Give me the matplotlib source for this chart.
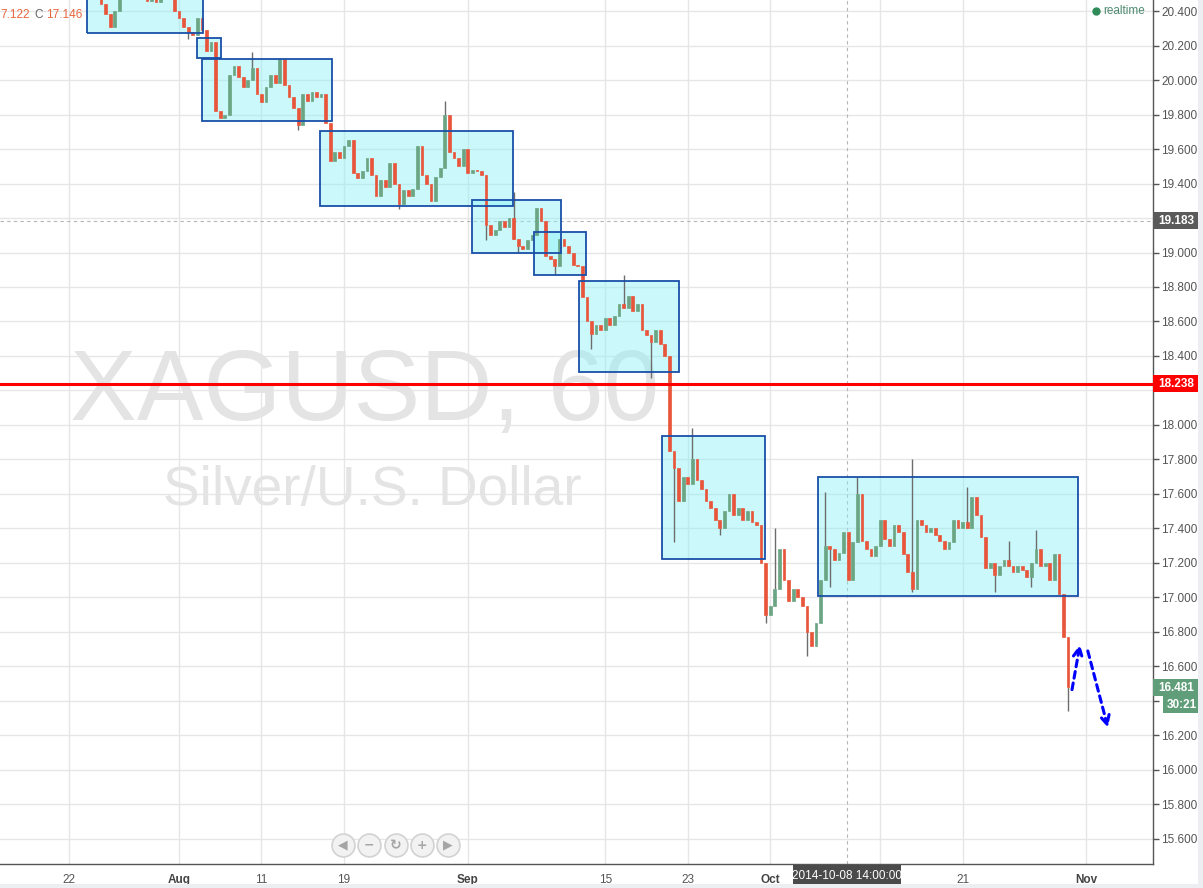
import numpy as np
import matplotlib.pyplot as plt
from matplotlib.patches import Rectangle

plt.rcParams['font.family'] = ['Liberation Sans', 'DejaVu Sans']

# XAGUSD 60 min, closes, 3 per trading day (day 0 = Jul 22 2014)
first_day = 1.0
closes = [
    20.55, 20.50, 20.48,  20.47, 20.44, 20.38,  20.31, 20.40, 20.47,
    20.55, 20.60, 20.62,  20.58, 20.52, 20.46,  20.48, 20.45, 20.49,
    20.52, 20.47, 20.40,  20.36, 20.31, 20.28,  20.26, 20.36, 20.29,
    20.17, 20.22, 19.82,  19.78, 19.80, 20.03,  20.08, 20.02, 19.96,
    20.00, 20.07, 19.92,  19.87, 19.96, 20.03,  19.98, 20.12, 19.97,
    19.90, 19.84, 19.74,  19.92, 19.88, 19.93,  19.90, 19.92, 19.75,
    19.53, 19.58, 19.55,  19.62, 19.65, 19.46,  19.43, 19.47, 19.55,
    19.45, 19.33, 19.42,  19.38, 19.52, 19.40,  19.28, 19.36, 19.33,
    19.37, 19.62, 19.45,  19.40, 19.30, 19.44,  19.49, 19.80, 19.58,
    19.55, 19.50, 19.60,  19.46, 19.48, 19.47,  19.45, 19.16, 19.10,
    19.13, 19.18, 19.15,  19.20, 19.08, 19.04,  19.02, 19.07, 19.10,
    19.26, 19.18, 18.98,  18.96, 18.92, 19.08,  19.04, 19.00, 18.93,
    18.92, 18.74, 18.60,  18.53, 18.58, 18.55,  18.62, 18.58, 18.63,
    18.70, 18.68, 18.75,  18.66, 18.70, 18.55,  18.52, 18.48, 18.55,
    18.47, 18.40, 17.85,  17.75, 17.56, 17.70,  17.66, 17.80, 17.68,
    17.63, 17.56, 17.52,  17.45, 17.40, 17.50,  17.60, 17.48, 17.52,
    17.45, 17.50, 17.44,  17.42, 17.20, 16.90,  16.95, 17.05, 17.28,
    17.10, 16.98, 17.05,  17.00, 16.95, 16.80,  16.72, 16.85, 17.10,
    17.30, 17.28, 17.22,  17.26, 17.38, 17.10,  17.32, 17.60, 17.33,
    17.28, 17.24, 17.30,  17.45, 17.34, 17.30,  17.42, 17.38, 17.25,
    17.15, 17.05, 17.45,  17.42, 17.38, 17.40,  17.36, 17.33, 17.28,
    17.32, 17.45, 17.40,  17.44, 17.40, 17.58,  17.48, 17.35, 17.17,
    17.20, 17.13, 17.18,  17.22, 17.18, 17.15,  17.18, 17.16, 17.12,
    17.20, 17.28, 17.18,  17.20, 17.10, 17.25,  17.02, 16.77, 16.481,
]

# spikes (wick extremes)
wick_days = [8.8, 13.3, 16.6, 18.7, 24.0, 27.35, 30.47, 32.3, 32.8, 35.5, 37.9,
             40.5, 42.25, 43.85, 45.2, 47.35, 50.55, 51.5, 53.6, 55.1, 55.5, 57.4,
             61.3, 61.4, 65.4, 67.5, 68.4, 69.9, 70.4, 72.6]
wick_prices = [20.24, 20.16, 19.71, 19.75, 19.25, 19.88, 19.07, 19.35, 19.00, 18.87, 18.44,
               18.87, 18.27, 17.32, 17.98, 17.36, 16.85, 17.40, 16.66, 17.61, 17.06, 17.70,
               17.03, 17.80, 17.64, 17.03, 17.33, 17.06, 17.39, 16.34]

# consolidation boxes
box_start = [1.31, 9.31, 9.67, 18.28, 29.31, 33.82, 37.09, 43.13, 54.47]
box_end = [9.75, 11.05, 19.13, 32.29, 35.78, 37.6, 44.36, 50.62, 73.38]
box_low = [20.27, 20.128, 19.763, 19.27, 19.0, 18.87, 18.31, 17.225, 17.01]
box_high = [20.70, 20.244, 20.122, 19.705, 19.305, 19.12, 18.836, 17.938, 17.70]

support = 18.238
last_close = 19.183
tick_pos = [0, 8, 14, 20, 29, 39, 45, 51, 59, 65, 74]
tick_lab = ['22', 'Aug', '11', '19', 'Sep', '15', '23', 'Oct', '', '21', 'Nov']
months = ['Aug', 'Sep', 'Oct', 'Nov']
hidden_prices = [16.4, 18.2, 19.2]   # scale labels covered by the price tags
cross_day = 56.58

W, H = 1203, 888
fig = plt.figure(figsize=(W / 100, H / 100), dpi=100)
ax = fig.add_axes([0, 24 / H, 1153 / W, 864 / H])
ax.set_xlim(-5.018, 78.84)
ax.set_ylim(15.455, 20.4638)

# grid
yt = np.round(np.arange(15.6, 20.41, 0.2), 1)
ax.set_yticks(yt)
ax.set_yticklabels(['' if v in hidden_prices else '%.3f' % v for v in yt])
ax.set_xticks(tick_pos)
ax.set_xticklabels(tick_lab)
ax.grid(color='#e6e6e6', lw=1, zorder=0)
ax.set_axisbelow(True)
ax.yaxis.tick_right()
ax.tick_params(axis='y', length=4, pad=2, colors='#555555', labelsize=8.5, width=1)
ax.tick_params(axis='x', length=0, pad=7, colors='#555555', labelsize=8.5)
for lab in ax.get_xticklabels():
    if lab.get_text() in months:
        lab.set_fontweight('bold')
        lab.set_color('#444444')
for s in ['top', 'left']:
    ax.spines[s].set_visible(False)
for s in ['right', 'bottom']:
    ax.spines[s].set_color('#555555')
    ax.spines[s].set_linewidth(1)

# watermark
ax.text(70 / 1153, 1 - 420 / 864, 'XAGUSD, 60', transform=ax.transAxes, fontsize=72,
        color='#e4e4e4', ha='left', va='baseline', zorder=1)
ax.text(163 / 1153, 1 - 505 / 864, 'Silver/U.S. Dollar', transform=ax.transAxes,
        fontsize=39.6, color='#e4e4e4', ha='left', va='baseline', zorder=1)

# boxes
for x0, x1, lo, hi in zip(box_start, box_end, box_low, box_high):
    ax.add_patch(Rectangle((x0, lo), x1 - x0, hi - lo, facecolor=(0.55, 0.95, 0.97),
                           alpha=0.45, edgecolor='none', zorder=2))
    ax.add_patch(Rectangle((x0, lo), x1 - x0, hi - lo, facecolor='none',
                           edgecolor='#1a4fa8', lw=1.3, zorder=4))

# candles
c = np.array(closes)
x = first_day + np.arange(len(c)) / 3
o = np.r_[c[0], c[:-1]]
lo = np.minimum(o, c)
hgt = np.maximum(np.abs(c - o), 0.01)
cols = np.where(c >= o, '#6ba583', '#e8553a')
for d, p in zip(wick_days, wick_prices):
    i = int(np.argmin(np.abs(x - d)))
    ax.vlines(x[i], p, c[i], color='#6d6d6d', lw=1, zorder=3)
ax.bar(x, hgt, bottom=lo, width=0.2, color=cols, edgecolor=cols, lw=0.5, zorder=3)

# lines
ax.axhline(support, color='#ff0000', lw=2.2, zorder=5)
ax.axhline(last_close, color='#b5b5b5', lw=0.8, ls=(0, (3, 3)), zorder=1)
ax.axvline(cross_day, color='#b5b5b5', lw=0.8, ls=(0, (3, 3)), zorder=1)

# forecast arrows
ap = dict(arrowstyle='->', color='#0000ff', lw=2.2, linestyle=(0, (2.2, 1.6)),
          mutation_scale=16, shrinkA=0, shrinkB=0)
ax.annotate('', xy=(73.53, 16.727), xytext=(72.95, 16.466), arrowprops=ap, zorder=6)
ax.annotate('', xy=(75.56, 16.246), xytext=(74.1, 16.69), arrowprops=ap, zorder=6)

# price labels on the scale
ytr = ax.get_yaxis_transform()
def price_tag(price, text, color, x0=1.0, w=45):
    h = 8.5 / 172.5
    ax.add_patch(Rectangle((x0, price - h), w / 1153, 2 * h, transform=ytr,
                           facecolor=color, edgecolor='none', clip_on=False, zorder=10))
    ax.text(x0 + (w / 2 + 1) / 1153, price, text, transform=ytr, color='white',
            fontsize=8.5, fontweight='bold', ha='center', va='center', clip_on=False, zorder=11)

price_tag(last_close, '%.3f' % last_close, '#5a5a5a')
price_tag(support, '%.3f' % support, '#ff0000')
price_tag(16.478, '16.481', '#5f9e78')
price_tag(16.377, '30:21', '#5f9e78', x0=1 + 10 / 1153, w=35)

# legend values, top left
ax.text(0, 1 - 15 / 864, '7.122', transform=ax.transAxes, color='#e8663c', fontsize=8.5,
        va='center', ha='left')
ax.text(34 / 1153, 1 - 15 / 864, 'C', transform=ax.transAxes, color='#666666',
        fontsize=8.5, va='center', ha='left')
ax.text(46 / 1153, 1 - 15 / 864, '17.146', transform=ax.transAxes, color='#e8663c',
        fontsize=8.5, va='center', ha='left')
ax.plot([1096 / 1153], [1 - 11 / 864], 'o', color='#2e8b57', ms=5, transform=ax.transAxes)
ax.text(1103 / 1153, 1 - 11 / 864, 'realtime', transform=ax.transAxes, color='#4e8a70',
        fontsize=8.5, va='center', ha='left')

# navigation buttons
icons = ['◀', '−', '↻', '+', '▶']
for k, (cx, ic) in enumerate(zip([343, 369, 396, 422, 448], icons)):
    ax.plot([cx / 1153], [1 - 845 / 864], 'o', ms=16.5, mfc='#f2f2f2', mec='#d2d2d2',
            mew=1.2, transform=ax.transAxes, zorder=8, clip_on=False)
    ax.text(cx / 1153, 1 - 845 / 864, ic, transform=ax.transAxes, color='#a5a5a5',
            fontsize=9 if k != 2 else 10, fontweight='bold', ha='center', va='center',
            zorder=9, family=['DejaVu Sans'])

# crosshair date label
fig.patches.append(Rectangle((793 / W, (H - 886) / H), 108 / W, 21 / H,
                             transform=fig.transFigure, facecolor='#4a4a4a', edgecolor='none'))
fig.text(847 / W, (H - 876) / H, '2014-10-08 14:00:00', color='white', fontsize=8.5,
         ha='center', va='center')

# frame strips
fig.patches.append(Rectangle((1198 / W, 0), 5 / W, 1, transform=fig.transFigure,
                             facecolor='#eceef1', edgecolor='none'))
fig.patches.append(Rectangle((0, 0), 1, 4 / H, transform=fig.transFigure,
                             facecolor='#eceef1', edgecolor='none'))

fig.savefig('out.png', dpi=100)
